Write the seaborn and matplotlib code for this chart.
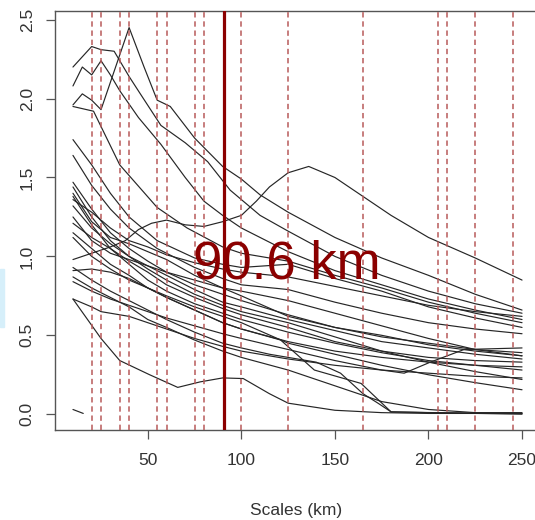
import numpy as np
import pandas as pd
import matplotlib
matplotlib.use("Agg")
import matplotlib.pyplot as plt
from matplotlib.patches import Rectangle
import seaborn as sns

# ── Data ──────────────────────────────────────────────────
GRID = [10, 20, 30, 40, 50, 60, 75, 90, 100, 125, 150, 175, 200, 225, 250]

# curves that share the common grid
m01 = [1.47, 1.30, 1.15, 1.05, 0.97, 0.90, 0.82, 0.76, 0.72, 0.63, 0.55, 0.49, 0.45, 0.41, 0.39]
m02 = [1.44, 1.25, 1.10, 1.00, 0.94, 0.88, 0.79, 0.71, 0.68, 0.60, 0.53, 0.46, 0.42, 0.38, 0.35]
m03 = [1.40, 1.22, 1.12, 1.08, 1.03, 0.98, 0.88, 0.80, 0.75, 0.62, 0.55, 0.50, 0.44, 0.40, 0.37]
m04 = [1.38, 1.20, 1.05, 0.95, 0.85, 0.78, 0.70, 0.64, 0.60, 0.52, 0.45, 0.39, 0.34, 0.31, 0.28]
m05 = [1.36, 1.28, 1.18, 1.10, 1.06, 1.01, 0.96, 0.92, 0.90, 0.87, 0.81, 0.75, 0.69, 0.65, 0.62]
m06 = [1.32, 1.18, 1.08, 1.00, 0.92, 0.85, 0.76, 0.69, 0.65, 0.58, 0.49, 0.40, 0.33, 0.27, 0.22]
m07 = [1.25, 1.10, 1.02, 0.98, 0.94, 0.90, 0.85, 0.80, 0.78, 0.72, 0.64, 0.56, 0.48, 0.41, 0.37]
m08 = [1.21, 1.12, 1.05, 0.97, 0.90, 0.82, 0.74, 0.67, 0.63, 0.55, 0.46, 0.40, 0.36, 0.34, 0.33]
m09 = [1.15, 1.05, 0.95, 0.88, 0.80, 0.75, 0.68, 0.62, 0.58, 0.45, 0.38, 0.31, 0.25, 0.20, 0.155]
m12 = [0.87, 0.80, 0.74, 0.68, 0.60, 0.55, 0.47, 0.40, 0.36, 0.28, 0.18, 0.08, 0.03, 0.01, 0.01]
m14 = [0.91, 0.92, 0.90, 0.86, 0.80, 0.74, 0.66, 0.58, 0.54, 0.46, 0.40, 0.36, 0.33, 0.31, 0.30]

# curves with their own knots
u1_x = [10, 20, 25, 32, 40, 46, 57, 70, 82, 94, 110, 125, 150, 175, 200, 225, 250]
u1_y = [2.20, 2.33, 2.31, 2.30, 2.14, 2.03, 1.83, 1.72, 1.60, 1.42, 1.26, 1.16, 1.00, 0.88, 0.78, 0.70, 0.64]
u2_x = [10, 15, 20, 25, 30, 35, 45, 57, 70, 80, 90, 100, 125, 150, 175, 200, 225, 250]
u2_y = [2.08, 2.20, 2.15, 2.24, 2.15, 2.05, 1.88, 1.71, 1.50, 1.35, 1.26, 1.18, 1.03, 0.91, 0.82, 0.73, 0.66, 0.60]
u3_x = [10, 15, 20, 25, 40, 48, 55, 62, 75, 90, 100, 110, 125, 150, 175, 200, 225, 250]
u3_y = [1.96, 2.03, 1.99, 1.93, 2.45, 2.20, 1.99, 1.95, 1.75, 1.57, 1.49, 1.39, 1.28, 1.12, 0.99, 0.88, 0.76, 0.66]
u4_x = [10, 21, 35, 55, 71, 90, 100, 125, 150, 175, 200, 225, 250]
u4_y = [1.95, 1.92, 1.58, 1.31, 1.18, 1.06, 1.02, 0.97, 0.88, 0.80, 0.71, 0.64, 0.58]
u5_x = [10, 20, 30, 40, 55, 75, 90, 100, 125, 150, 175, 200, 225, 250]
u5_y = [1.74, 1.58, 1.40, 1.25, 1.10, 0.99, 0.95, 0.93, 0.95, 0.86, 0.78, 0.68, 0.61, 0.55]
u6_x = [10, 20, 30, 40, 55, 75, 90, 100, 125, 150, 175, 200, 225, 250]
u6_y = [1.64, 1.45, 1.30, 1.18, 1.05, 0.93, 0.86, 0.82, 0.79, 0.71, 0.64, 0.58, 0.54, 0.51]
bump_x = [10, 20, 30, 38, 45, 52, 60, 70, 80, 90, 100, 108, 115, 125, 136, 150, 165, 180, 200, 225, 250]
bump_y = [0.98, 1.02, 1.06, 1.10, 1.17, 1.21, 1.23, 1.20, 1.19, 1.22, 1.26, 1.35, 1.44, 1.53, 1.57, 1.50, 1.38, 1.26, 1.12, 0.99, 0.85]
m10_x = [10, 20, 30, 40, 50, 60, 75, 90, 100, 121, 139, 164, 180, 200, 250]
m10_y = [1.12, 1.00, 0.92, 0.85, 0.80, 0.74, 0.66, 0.58, 0.54, 0.47, 0.28, 0.195, 0.015, 0.01, 0.005]
m11_x = [10, 20, 30, 40, 50, 60, 75, 90, 100, 115, 125, 140, 153, 165, 173, 180, 250]
m11_y = [0.93, 0.85, 0.78, 0.72, 0.66, 0.60, 0.52, 0.45, 0.42, 0.38, 0.36, 0.33, 0.26, 0.13, 0.07, 0.015, 0.0]
m13_x = [10, 20, 30, 40, 50, 60, 75, 90, 100, 125, 150, 175, 187, 201, 219, 250]
m13_y = [0.84, 0.78, 0.73, 0.69, 0.65, 0.61, 0.56, 0.51, 0.48, 0.41, 0.34, 0.28, 0.26, 0.33, 0.41, 0.42]
plat_x = [10, 20, 25, 30, 40, 50, 60, 75, 90, 100, 125, 150, 175, 200, 225, 250]
plat_y = [0.73, 0.68, 0.65, 0.64, 0.62, 0.58, 0.54, 0.48, 0.43, 0.40, 0.35, 0.31, 0.28, 0.26, 0.24, 0.23]
low_x = [10, 25, 35, 51, 66, 78, 90, 101, 115, 125, 150, 175, 200, 250]
low_y = [0.73, 0.48, 0.34, 0.25, 0.17, 0.205, 0.23, 0.226, 0.13, 0.07, 0.025, 0.01, 0.005, 0.005]
dash_x = [10, 15.5]
dash_y = [0.03, 0.005]

DASHED_KM = [20, 25, 35, 40, 55, 60, 75, 80, 100, 125, 165, 205, 210, 225, 245]
BEST_KM = 90.6
BEST_LABEL = "90.6 km"

# ── Long table for seaborn ────────────────────────────────
curves = [(GRID, c) for c in (m01, m02, m03, m04, m05, m06, m07, m08, m09, m12, m14)]
curves += [(u1_x, u1_y), (u2_x, u2_y), (u3_x, u3_y), (u4_x, u4_y), (u5_x, u5_y),
           (u6_x, u6_y), (bump_x, bump_y), (m10_x, m10_y), (m11_x, m11_y),
           (m13_x, m13_y), (plat_x, plat_y), (low_x, low_y), (dash_x, dash_y)]
rows = []
for k, (xs, ys) in enumerate(curves):
    for x, y in zip(xs, ys):
        rows.append({"curve": k, "scale": x, "value": y})
df = pd.DataFrame(rows)

# ── Figure ────────────────────────────────────────────────
sns.set_theme(style="white")
plt.rcParams["font.family"] = ["Liberation Sans", "DejaVu Sans"]

fig = plt.figure(figsize=(5.35, 5.2), dpi=100)
ax = fig.add_axes([55 / 535, 90 / 520, 485 / 535, 419 / 520])

sns.lineplot(data=df, x="scale", y="value", units="curve", estimator=None,
             sort=False, color="#262626", linewidth=0.85, ax=ax, zorder=2)

for km in DASHED_KM:
    ax.axvline(km, color="#b85a5a", linewidth=1.1, dashes=(3.5, 2.5), zorder=3)
ax.axvline(BEST_KM, color="#8b0000", linewidth=2.3, zorder=4)
ax.text(124.3, 0.863, BEST_LABEL, color="#8b0000", fontsize=38,
        ha="center", va="baseline", zorder=5)

ax.set_xlim(0.4, 259.6)
ax.set_ylim(-0.1, 2.555)
ax.set_xticks([50, 100, 150, 200, 250])
ax.set_yticks([0.0, 0.5, 1.0, 1.5, 2.0, 2.5])
ax.set_yticklabels(["0.0", "0.5", "1.0", "1.5", "2.0", "2.5"])
ax.tick_params(axis="both", direction="out", length=6.5, width=0.9, color="#555555",
               labelsize=12.5, labelcolor="#333333", bottom=True, left=True)
ax.tick_params(axis="x", pad=10)
ax.tick_params(axis="y", pad=8, labelrotation=90)
for lab in ax.get_yticklabels():
    lab.set_va("center")

for sp in ax.spines.values():
    sp.set_color("#555555")
    sp.set_linewidth(1.0)

ax.set_ylabel("")
ax.set_xlabel("Scales (km)", fontsize=12.5, color="#333333")
ax.xaxis.set_label_coords(0.497, -0.191)
ax.xaxis.label.set_va("center")

# thin light-blue strip at the left edge of the crop
fig.patches.append(Rectangle((0, 1 - 327 / 520), 4 / 535, 58 / 520,
                             transform=fig.transFigure, color="#d6effa", zorder=0))

fig.savefig("out.png", dpi=100)
plt.close(fig)
